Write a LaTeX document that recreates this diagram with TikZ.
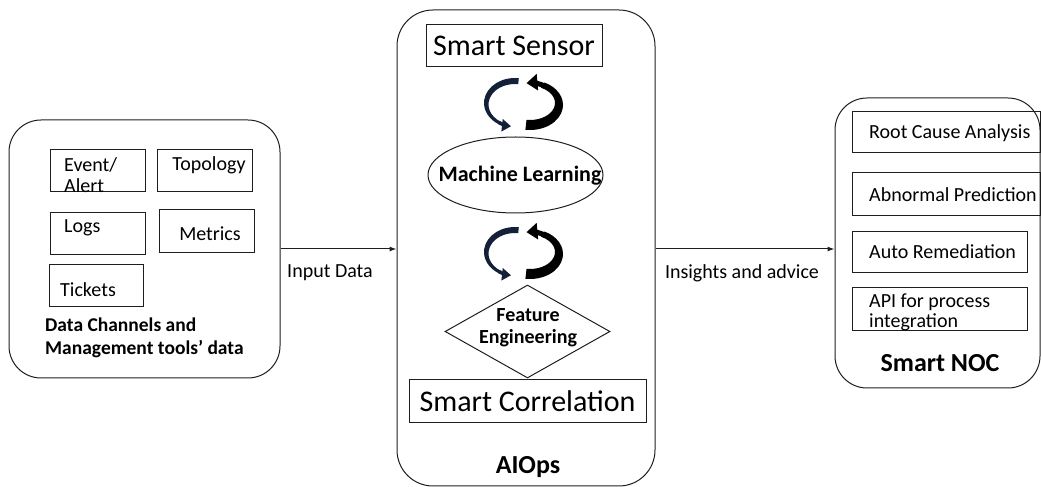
\documentclass[tikz,border=0pt]{standalone}
\usepackage{fontspec}
\setmainfont{Carlito}
\usetikzlibrary{shapes.geometric,arrows.meta,calc}
\definecolor{ln}{RGB}{30,30,30}
\definecolor{navy}{RGB}{18,32,56}
\begin{document}
\begin{tikzpicture}[x=1pt,y=1pt,
  container/.style={draw=ln, line width=1pt, rounded corners=32pt, inner sep=0pt},
  box/.style={draw=ln, line width=1pt, inner sep=0pt},
  txt/.style={inner sep=0pt, font=\fontsize{20}{21}\selectfont, align=left},
  btxt/.style={inner sep=0pt, font=\fontsize{19.5}{23}\selectfont\bfseries, align=left},
  big/.style={font=\fontsize{30}{32}\selectfont},
  title/.style={inner sep=0pt, font=\fontsize{26}{28}\selectfont\bfseries},
  flow/.style={draw=ln, line width=1pt, -{Latex[length=7pt,width=5pt]}},
]
\useasboundingbox (0,0) rectangle (1041,487);

% containers
\node[container, minimum width=271pt, minimum height=258pt] (src) at (144.5,238) {};
\node[container, rounded corners=36pt, minimum width=258pt, minimum height=476pt] (aiops) at (526,239) {};
\node[container, minimum width=205pt, minimum height=290pt] (noc) at (937.5,244) {};

% left inner boxes
\node[box, minimum width=95pt, minimum height=42pt] (ev) at (97.5,316) {};
\node[txt, anchor=west] (evt) at (64,312) {Event/\\Alert};
\node[box, minimum width=95pt, minimum height=42pt] (topo) at (204.5,316) {};
\node[txt] (topot) at (209,322) {Topology};
\node[box, minimum width=95pt, minimum height=42pt] (logs) at (97.5,253) {};
\node[txt, anchor=west] (logst) at (64,259) {Logs};
\node[box, minimum width=95pt, minimum height=43pt] (met) at (206.5,255.5) {};
\node[txt] (mett) at (210,253) {Metrics};
\node[box, minimum width=94pt, minimum height=42pt] (tic) at (96,201) {};
\node[txt, anchor=west] (tict) at (60,197) {Tickets};
\node[btxt, anchor=west] (srct) at (45,149) {Data Channels and\\Management tools’ data};

% center column
\node[box, big, minimum width=176pt, minimum height=42pt] (sensor) at (514,441) {Smart Sensor};
\node[draw=ln, line width=1pt, ellipse, minimum width=175pt, minimum height=76pt, inner sep=0pt] (ml) at (515.5,312) {};
\node[inner sep=0pt, font=\fontsize{22}{24}\selectfont\bfseries] (mlt) at (520,311) {Machine Learning};
\node[draw=ln, line width=1pt, diamond, minimum width=165pt, minimum height=93pt, inner sep=0pt] (fe) at (527.5,155.5) {};
\node[btxt, align=center, font=\fontsize{20}{22}\selectfont\bfseries] (fet) at (528,159) {Feature\\Engineering};
\node[box, big, minimum width=237pt, minimum height=43pt] (corr) at (527.5,85.5) {Smart Correlation};
\node[title] (aiopst) at (528,20) {AIOps};

% cycle arrows
\foreach \dy in {0,-149}{
\begin{scope}[shift={(0,\dy)}]
  \fill[navy] ($(515,384)+(83:31 and 25)$) arc[start angle=83,end angle=240,x radius=31,y radius=25]
     -- ($(515,382.5)+(240:26.5 and 20.5)$) arc[start angle=240,end angle=83,x radius=26.5,y radius=20.5] -- cycle;
  \draw[navy, line width=3.5pt, -{Triangle[length=9pt,width=12pt]}] ($(515,383.25)+(236:28.75 and 22.75)$) arc[start angle=236,end angle=262,x radius=28.75,y radius=22.75];
  \fill[black] ($(530,382)+(-98:33 and 25)$) arc[start angle=-98,end angle=64,x radius=33,y radius=25]
     -- ($(530,384)+(64:25 and 17)$) arc[start angle=64,end angle=-98,x radius=25,y radius=17] -- cycle;
  \draw[black, line width=5pt, -{Triangle[length=11pt,width=16pt]}] ($(530,383)+(60:29 and 21)$) arc[start angle=60,end angle=97,x radius=29,y radius=21];
\end{scope}
}

% right inner boxes
\node[box, minimum width=188pt, minimum height=41pt] (rca) at (946,354.5) {};
\node[txt, anchor=west] (rcat) at (869,354) {Root Cause Analysis};
\node[box, minimum width=188pt, minimum height=43pt] (abn) at (946,292.5) {};
\node[txt, anchor=west] (abnt) at (869,292) {Abnormal Prediction};
\node[box, minimum width=175pt, minimum height=41pt] (auto) at (939.5,234.5) {};
\node[txt, anchor=west] (autot) at (869,235) {Auto Remediation};
\node[box, minimum width=175pt, minimum height=43pt] (api) at (939.5,177.5) {};
\node[txt, anchor=west, font=\fontsize{20}{20}\selectfont] (apit) at (869,175) {API for process\\integration};
\node[title] (noct) at (940,124) {Smart NOC};

% flows
\draw[flow] (src.east) -- (src.east -| aiops.west);
\draw[flow] (src.east -| aiops.east) -- (src.east -| noc.west);
\node[txt] (inl) at (330,214) {Input Data};
\node[txt] (outl) at (742,214) {Insights and advice};
\end{tikzpicture}
\end{document}
